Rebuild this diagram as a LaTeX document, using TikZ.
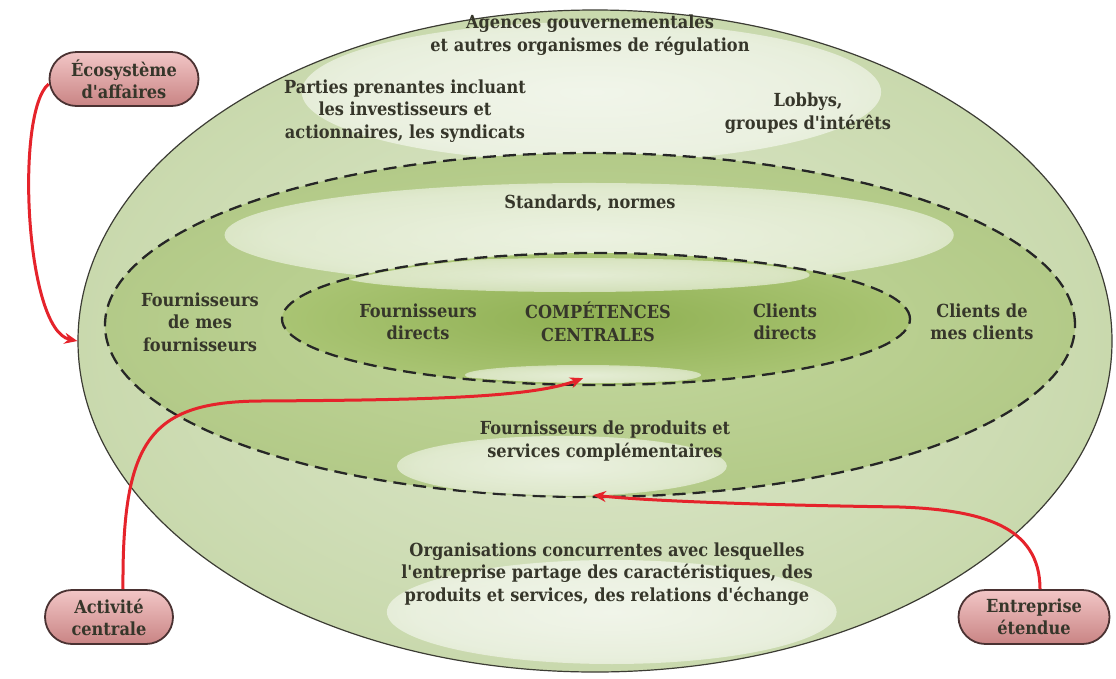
\documentclass[tikz,border=0pt]{standalone}
\usepackage{fontspec}
\setmainfont{DejaVu Serif Condensed}[Ligatures=TeXOff]
\usetikzlibrary{shapes.geometric,shapes.misc,arrows.meta,fadings}
\definecolor{txt}{HTML}{36362A}
\definecolor{outerA}{HTML}{DEE8CD}
\definecolor{outerB}{HTML}{C9D9AD}
\definecolor{midA}{HTML}{C4D89F}
\definecolor{midB}{HTML}{B3CA88}
\definecolor{innA}{HTML}{8FB052}
\definecolor{innB}{HTML}{A9C473}
\definecolor{pinkT}{HTML}{F2C6C6}
\definecolor{pinkM}{HTML}{E2A5A5}
\definecolor{pinkB}{HTML}{C98484}
\definecolor{pillb}{HTML}{4A3232}
\definecolor{arr}{HTML}{E5232B}
\definecolor{rim}{HTML}{3C3C34}
\pgfdeclareradialshading{glowshade}{\pgfpointorigin}{color(0bp)=(white); color(22bp)=(white!80!black); color(50bp)=(black)}
\pgfdeclarefading{glowfade}{\pgfuseshading{glowshade}}
\tikzset{
  lbl/.style={align=center, text=txt, font=\bfseries\fontsize{18}{22.5}\selectfont, inner sep=0pt},
  ring/.style={ellipse, inner sep=0pt, draw=rim},
  dashring/.style={ellipse, inner sep=0pt, draw=black!85, line width=2.3pt, dash pattern=on 13pt off 7pt},
  glow/.style={white, path fading=glowfade, fit fading=true, fill opacity=0.72},
  pill/.style={rounded rectangle, draw=pillb, line width=1.8pt, top color=pinkT, middle color=pinkM, bottom color=pinkB,
    minimum height=54pt, align=center, text=txt, font=\bfseries\fontsize{18}{22}\selectfont, inner sep=2pt},
  link/.style={draw=arr, line width=3pt, -{Stealth[length=13pt,width=11pt]}}
}
\begin{document}
\begin{tikzpicture}[x=1pt,y=-1pt]
\useasboundingbox (0,0) rectangle (1116,678);
% outer ring
\node[ring, line width=1.2pt, inner color=outerA, outer color=outerB, minimum width=1034pt, minimum height=662pt] (outer) at (595,341) {};
\begin{scope}
\clip (595,341) ellipse [x radius=516, y radius=330];
\fill[glow] (592,92) ellipse [x radius=290, y radius=70];
\fill[glow] (612,612) ellipse [x radius=225, y radius=52];
\end{scope}
% middle ring
\node[dashring, inner color=midA, outer color=midB, minimum width=970pt, minimum height=344pt] (mid) at (590,325) {};
\begin{scope}
\clip (590,325) ellipse [x radius=484, y radius=171];
\fill[glow] (590,235) ellipse [x radius=365, y radius=52];
\fill[glow] (562,466) ellipse [x radius=165, y radius=30];
\end{scope}
% inner ring
\node[dashring, inner color=innA, outer color=innB, minimum width=628pt, minimum height=132pt] (inn) at (596,319) {};
\begin{scope}
\clip (596,319) ellipse [x radius=312, y radius=64];
\fill[glow] (575,275) ellipse [x radius=235, y radius=17];
\fill[glow] (583,375) ellipse [x radius=118, y radius=10];
\end{scope}
% labels
\node[lbl] (agences) at (590,35) {Agences gouvernementales\\et autres organismes de régulation};
\node[lbl] (parties) at (405,111) {Parties prenantes incluant\\les investisseurs et\\actionnaires, les syndicats};
\node[lbl] (lobbys) at (808,113) {Lobbys,\\groupes d'intérêts};
\node[lbl] (standards) at (590,203) {Standards, normes};
\node[lbl] (fmf) at (200,322) {Fournisseurs\\de mes\\fournisseurs};
\node[lbl] (fd) at (418,322) {Fournisseurs\\directs};
\node[lbl] (cc) at (598,322) {COMPÉTENCES\\CENTRALES};
\node[lbl] (cd) at (785,322) {Clients\\directs};
\node[lbl] (cmc) at (982,322) {Clients de\\mes clients};
\node[lbl] (fpsc) at (605,441) {Fournisseurs de produits et\\services complémentaires};
\node[lbl] (orgs) at (607,574) {Organisations concurrentes avec lesquelles\\l'entreprise partage des caractéristiques, des\\produits et services, des relations d'échange};
% pills
\node[pill, minimum width=153pt] (eco) at (124,79) {Écosystème\\d'affaires};
\node[pill, minimum width=132pt] (act) at (109,617) {Activité\\centrale};
\node[pill, minimum width=155pt] (ent) at (1034,617) {Entreprise\\étendue};
% arrows
\coordinate (a1) at (260,401);
\coordinate (a2) at (900,507);
\draw[link] ([yshift=-5pt]eco.west) .. controls (15,112) and (25,330) .. (outer.west);
\draw[link] ([xshift=14pt]act.north) .. controls (122,440) and (150,402) .. (a1) .. controls (420,400) and (530,398) .. ([xshift=-13pt,yshift=8pt]inn.south);
\draw[link] ([xshift=6pt]ent.north) .. controls (1040,525) and (980,510) .. (a2) .. controls (760,505) and (650,501) .. ([xshift=3pt,yshift=3pt]mid.south);
\end{tikzpicture}
\end{document}
